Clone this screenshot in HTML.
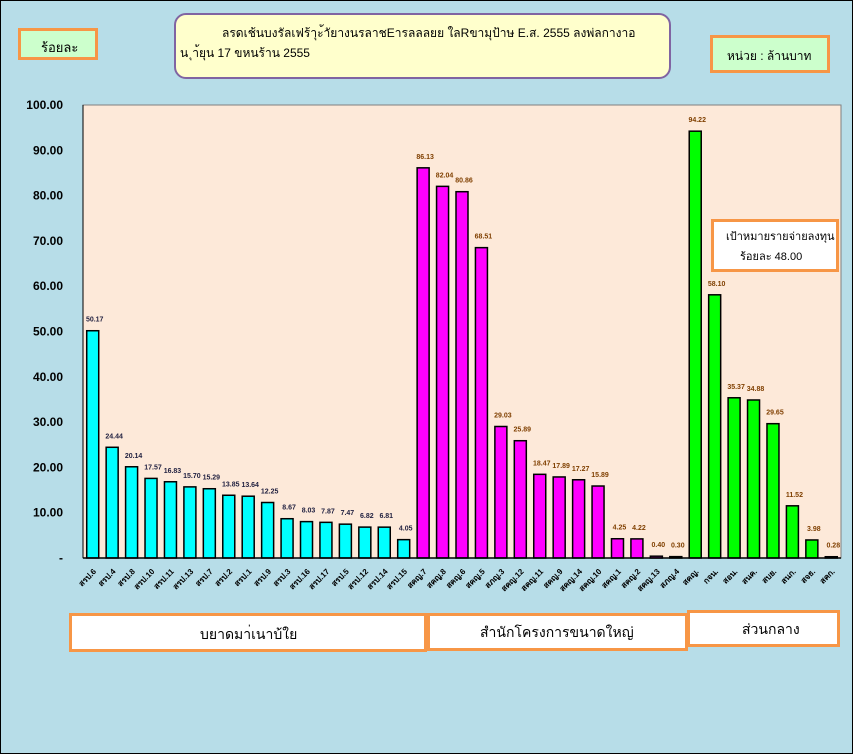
<!DOCTYPE html>
<html><head><meta charset="utf-8"><style>
body{margin:0;}
#root{position:relative;width:851px;height:752px;background:#b7dde8;border:1px solid #000;font-family:"Liberation Sans",sans-serif;overflow:hidden}
.box{position:absolute;box-sizing:border-box;border:3px solid #f79646;font-size:13px;color:#000;white-space:nowrap}
svg text{font-family:"Liberation Sans",sans-serif}
</style></head><body>
<div id="root">
<div class="box" style="left:17px;top:27px;width:80px;height:32px;background:#ccffcc;padding:6px 0 0 20px">ร้อยละ</div>
<div style="position:absolute;left:173px;top:12px;width:497px;height:66px;box-sizing:border-box;border:2px solid #8064a2;border-radius:12px;background:#ffffcc;font-size:12px;padding:8px 8px 0 4px;line-height:20px;white-space:nowrap"><div style="padding-left:42px">ลรดเช้นบงรัลเฟร้าุะ้าัยางนรลาชEารลลลยย ใลRขามุป้าษ E.ส. 2555 ลงพ่ลกางาอ</div><div>น ุา้ยุน 17 ขหนร้าน 2555</div></div>
<div class="box" style="left:709px;top:34px;width:120px;height:38px;background:#ccffcc;padding:9px 0 0 14px;font-size:12px">หน่วย : ล้านบาท</div>
<svg id="chart" width="853" height="754" style="position:absolute;left:0;top:0"></svg>
<div class="box" style="left:710px;top:218px;width:128px;height:53px;background:#fff;font-size:11px;padding:5px 0 0 12px;line-height:20px">เป้าหมายรายจ่ายลงทุน<br><span style="padding-left:14px">ร้อยละ 48.00</span></div>
<div class="box" style="left:68px;top:612px;width:358px;height:39px;background:#fff;font-size:14px;padding:8px 0 0 128px">บยาดมา่เนาบ้ใย</div>
<div class="box" style="left:426px;top:612px;width:261px;height:38px;background:#fff;font-size:14px;padding:6px 0 0 50px">สำนักโครงการขนาดใหญ่</div>
<div class="box" style="left:686px;top:609px;width:153px;height:37px;background:#fff;font-size:14px;padding:6px 0 0 52px">ส่วนกลาง</div>
</div>
<script>
const categories=["สรป.6","สรป.4","สรป.8","สรป.10","สรป.11","สรป.13","สรป.7","สรป.2","สรป.1","สรป.9","สรป.3","สรป.16","สรป.17","สรป.5","สรป.12","สรป.14","สรป.15",
"สคญ.7","สคญ.8","สคญ.6","สคญ.5","สภญ.3","สคญ.12","สคญ.11","สคญ.9","สคญ.14","สคญ.10","สคญ.1","สคญ.2","สคญ.13","สภญ.4",
"สคญ.","กจน.","สอน.","สนค.","สบย.","สนก.","สจธ.","สคก."];
const values=[50.17,24.44,20.14,17.57,16.83,15.70,15.29,13.85,13.64,12.25,8.67,8.03,7.87,7.47,6.82,6.81,4.05,
86.13,82.04,80.86,68.51,29.03,25.89,18.47,17.89,17.27,15.89,4.25,4.22,0.40,0.30,
94.22,58.10,35.37,34.88,29.65,11.52,3.98,0.28];
const groups=[0,0,0,0,0,0,0,0,0,0,0,0,0,0,0,0,0,1,1,1,1,1,1,1,1,1,1,1,1,1,1,2,2,2,2,2,2,2,2];
const groupColors=["#00ffff","#ff00ff","#00ff00"];
const yTicks=[0,10,20,30,40,50,60,70,80,90,100];
const tickLabels=["-","10.00","20.00","30.00","40.00","50.00","60.00","70.00","80.00","90.00","100.00"];
const svg=document.getElementById('chart');const NS='http://www.w3.org/2000/svg';
const L=82,R=840,T=104,B=557;
const y=v=>B-(v/100)*(B-T);
const slot=(R-L)/categories.length;
const x=i=>L+slot*i+slot/2;
function mk(tag,a){const e=document.createElementNS(NS,tag);for(const k in a)e.setAttribute(k,a[k]);svg.appendChild(e);return e;}
const bg=mk('rect',{x:L,y:T,width:R-L,height:B-T,fill:'#fde9d9',stroke:'#808080'});


yTicks.forEach((t,i)=>{const tx=mk('text',{x:62,y:y(t)+4,'text-anchor':'end','font-size':'12','font-weight':'bold',fill:'#000'});tx.textContent=tickLabels[i];

});
values.forEach((v,i)=>{const cx=x(i);
const r=mk('rect',{x:cx-6,y:y(v),width:12,height:B-y(v),fill:groupColors[groups[i]],stroke:'#000','stroke-width':1.5});


const t=mk('text',{x:cx+2,y:y(v)-9,'text-anchor':'middle','font-size':'7','font-weight':'bold',fill:groups[i]==0?'#1f1f3f':'#7f3f00'});t.textContent=v.toFixed(2);


const c=mk('text',{x:cx+4,y:B+14,'text-anchor':'end','font-size':'8','font-weight':'bold',fill:'#000',transform:`rotate(-45 ${cx+4} ${B+14})`});c.textContent=categories[i];

});
mk('line',{x1:L,y1:B,x2:R,y2:B,stroke:'#000','stroke-width':1.5});
mk('line',{x1:L,y1:T,x2:L,y2:B,stroke:'#000','stroke-width':1});
</script>
</body></html>
